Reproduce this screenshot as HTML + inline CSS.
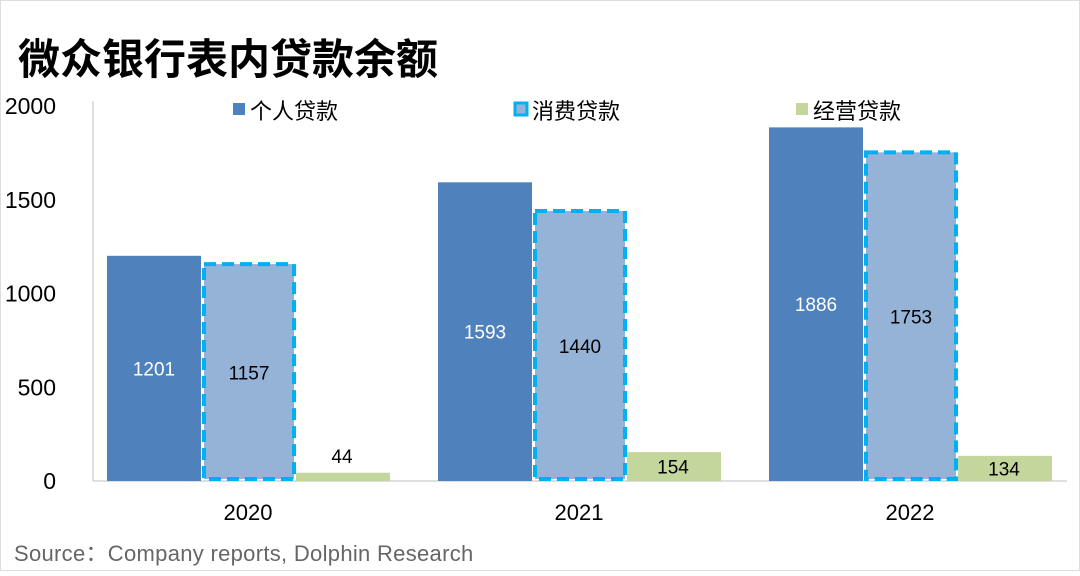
<!DOCTYPE html>
<html><head><meta charset="utf-8"><style>
body{margin:0;background:#fff;width:1080px;height:571px;overflow:hidden;font-family:"Liberation Sans","Noto Sans CJK SC",sans-serif}
svg text{font-family:"Liberation Sans","Noto Sans CJK SC",sans-serif}
</style></head><body>
<svg id="c" width="1080" height="571">
<rect x="0.5" y="0.5" width="1079" height="570" fill="#fff" stroke="#ddd"/>
<text x="18" y="74" font-size="42" font-weight="bold" fill="#000">微众银行表内贷款余额</text>
<text x="14" y="561" font-size="22" letter-spacing="0.3" fill="#666">Source：Company reports,  Dolphin Research</text>
<g id="g"></g>
</svg>
<script>
const categories=["2020","2021","2022"];
const personal=[1201,1593,1886];
const consumer=[1157,1440,1753];
const business=[44,154,134];
const yTicks=[0,500,1000,1500,2000];
const NS="http://www.w3.org/2000/svg";
const g=document.getElementById('g');
const y0=481,pxPer=375/2000;
const y=v=>y0-v*pxPer;
const groupX=i=>107+i*331;
const bw=94;
function el(t,a){const e=document.createElementNS(NS,t);for(const k in a)e.setAttribute(k,a[k]);g.appendChild(e);return e;}
yTicks.forEach(t=>{const e=el('text',{x:56,y:y(t)+8,'font-size':23,'text-anchor':'end',fill:'#000'});e.textContent=t;

});
const ax=el('line',{x1:93,y1:y(2000)-5,x2:93,y2:y0,stroke:'#bfbfbf','stroke-width':1});


const xa=el('line',{x1:93,y1:y0,x2:1067,y2:y0,stroke:'#bfbfbf','stroke-width':1});


categories.forEach((c,i)=>{
 const gx=groupX(i);
 const b1=el('rect',{x:gx,y:y(personal[i]),width:bw,height:personal[i]*pxPer,fill:'#4f81bd'});
 
 
 const b2=el('rect',{x:gx+bw+3,y:y(consumer[i]),width:bw-4,height:consumer[i]*pxPer-2,fill:'#95b3d7',stroke:'#00b0f0','stroke-width':4,'stroke-dasharray':'12 6'});
 
 
 const b3=el('rect',{x:gx+2*bw+1,y:y(business[i]),width:bw,height:business[i]*pxPer,fill:'#c3d69b'});
 
 
 const l1=el('text',{x:gx+bw/2,y:y(personal[i]/2)+7,'font-size':19,'text-anchor':'middle',fill:'#fff'});l1.textContent=personal[i];
 
 
 const l2=el('text',{x:gx+bw*1.5+1,y:y(consumer[i]/2)+7,'font-size':19,'text-anchor':'middle',fill:'#000'});l2.textContent=consumer[i];
 
 
 const ly=business[i]<100?y(business[i])-10:y(business[i]/2)+7;
 const l3=el('text',{x:gx+bw*2.5,y:ly,'font-size':19,'text-anchor':'middle',fill:'#000'});l3.textContent=business[i];
 
 
 const cl=el('text',{x:gx+bw*1.5,y:520,'font-size':22,'text-anchor':'middle',fill:'#000'});cl.textContent=c;
 
 
});
const legend=[["个人贷款",'#4f81bd',null,233],["消费贷款",'#95b3d7','#00b0f0',515],["经营贷款",'#c3d69b',null,796]];
legend.forEach(l=>{
 const s=el('rect',{x:l[3],y:103,width:12,height:12,fill:l[1]});
 if(l[2]){s.setAttribute('stroke',l[2]);s.setAttribute('stroke-width',3);}
 
 
 const t=el('text',{x:l[3]+17,y:119,'font-size':22,fill:'#000'});t.textContent=l[0];
 
 
});
</script>
</body></html>
